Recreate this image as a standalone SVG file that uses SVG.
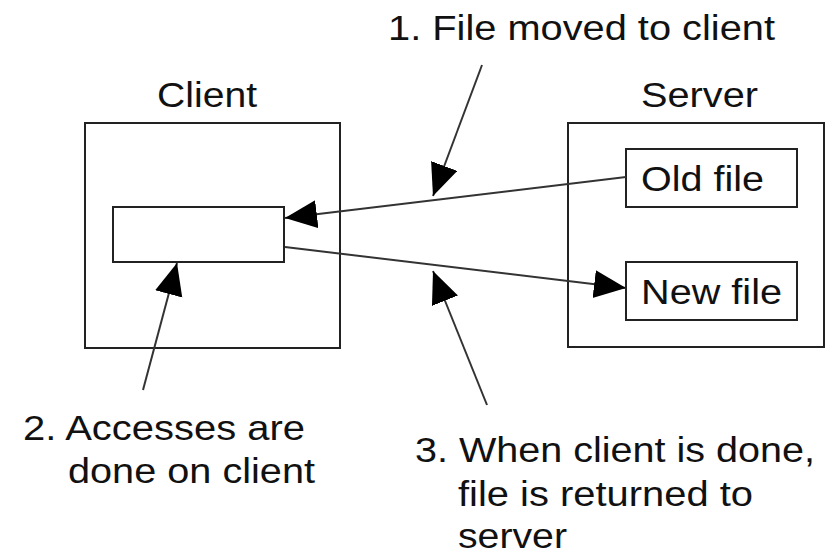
<svg xmlns="http://www.w3.org/2000/svg" width="826" height="554" viewBox="0 0 826 554">
<defs>
<style>
.box{fill:none;stroke:#222;stroke-width:2}
.ln{fill:none;stroke:#333;stroke-width:2}
.t{font-family:"Liberation Sans",Arial,sans-serif;font-size:35px;fill:#111}
</style>
<marker id="ah" markerUnits="userSpaceOnUse" markerWidth="34" markerHeight="30" refX="32" refY="14" orient="auto" viewBox="0 0 34 30">
<path d="M0,0 L32,14 L0,28 Z" fill="#000"/>
</marker>
</defs>
<rect width="826" height="554" fill="#fff"/>
<g id="client">
<rect class="box" x="85" y="123" width="255" height="225"/>
<text class="t" x="157" y="107" textLength="100" lengthAdjust="spacingAndGlyphs">Client</text>
</g>
<g id="client-file">
<rect class="box" x="113" y="207" width="171" height="55"/>
</g>
<g id="server">
<rect class="box" x="568" y="123" width="256" height="224"/>
<text class="t" x="641" y="107" textLength="117" lengthAdjust="spacingAndGlyphs">Server</text>
</g>
<g id="old-file">
<rect class="box" x="626" y="149" width="171" height="58"/>
<text class="t" x="641" y="191" textLength="123" lengthAdjust="spacingAndGlyphs">Old file</text>
</g>
<g id="new-file">
<rect class="box" x="626" y="262" width="171" height="58"/>
<text class="t" x="641" y="304" textLength="141" lengthAdjust="spacingAndGlyphs">New file</text>
</g>
<g id="label1">
<text class="t" x="388" y="40" textLength="387" lengthAdjust="spacingAndGlyphs">1. File moved to client</text>
</g>
<g id="label2">
<text class="t" x="23" y="440" textLength="282" lengthAdjust="spacingAndGlyphs">2. Accesses are</text>
<text class="t" x="68" y="483" textLength="247" lengthAdjust="spacingAndGlyphs">done on client</text>
</g>
<g id="label3">
<text class="t" x="415" y="462" textLength="400" lengthAdjust="spacingAndGlyphs">3. When client is done,</text>
<text class="t" x="458" y="506" textLength="295" lengthAdjust="spacingAndGlyphs">file is returned to</text>
<text class="t" x="458" y="548" textLength="109" lengthAdjust="spacingAndGlyphs">server</text>
</g>
<g id="connectors">
<line class="ln" x1="626" y1="177" x2="285" y2="218" marker-end="url(#ah)"/>
<line class="ln" x1="285" y1="247" x2="626" y2="288" marker-end="url(#ah)"/>
<line class="ln" x1="482" y1="65" x2="433" y2="196" marker-end="url(#ah)"/>
<line class="ln" x1="143" y1="390" x2="177" y2="263" marker-end="url(#ah)"/>
<line class="ln" x1="487" y1="405" x2="433" y2="271" marker-end="url(#ah)"/>
</g>
</svg>
